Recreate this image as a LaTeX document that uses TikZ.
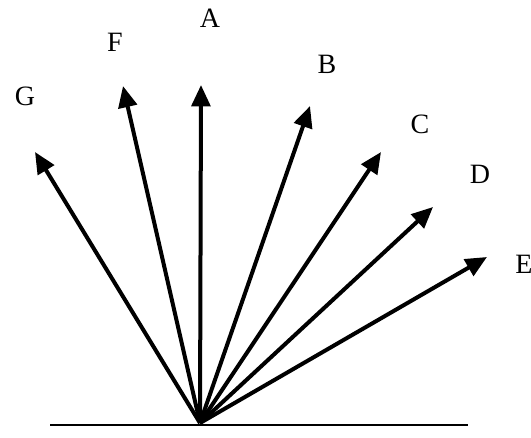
\documentclass[tikz,border=0pt]{standalone}
\usepackage{fontspec}
\setmainfont{Liberation Serif}
\usetikzlibrary{arrows.meta}

\begin{document}
\begin{tikzpicture}[x=0.75pt,y=0.75pt,yscale=-1,xscale=1,
  ray/.style={line width=3pt, -{Triangle[length=16pt,width=14pt]}},
  lbl/.style={inner sep=0pt, font=\fontsize{21}{25}\selectfont}]
\useasboundingbox (0,0) rectangle (531,437);

% Points
\coordinate (O) at (200,423);
\coordinate (baseL) at (50,425);
\coordinate (baseR) at (468,425);
\coordinate (tipG) at (35,152);
\coordinate (tipF) at (123,86);
\coordinate (tipA) at (201,85);
\coordinate (tipB) at (310,106);
\coordinate (tipC) at (381,152);
\coordinate (tipD) at (433,207);
\coordinate (tipE) at (487,257);

%Straight Lines
\draw [line width=1.6pt] (baseL) -- (baseR) ;
%Arrows
\foreach \t in {G,F,A,B,C,D,E}
  \draw [ray] (O) -- (tip\t) ;

% Text Node
\node [lbl] (labA) at (210,18) {A};
% Text Node
\node [lbl] (labF) at (115,42) {F};
% Text Node
\node [lbl] (labG) at (25,96) {G};
% Text Node
\node [lbl] (labB) at (327,64) {B};
% Text Node
\node [lbl] (labC) at (420,124) {C};
% Text Node
\node [lbl] (labD) at (480,174) {D};
% Text Node
\node [lbl, anchor=west] (labE) at (515,264) {E};

\end{tikzpicture}
\end{document}
